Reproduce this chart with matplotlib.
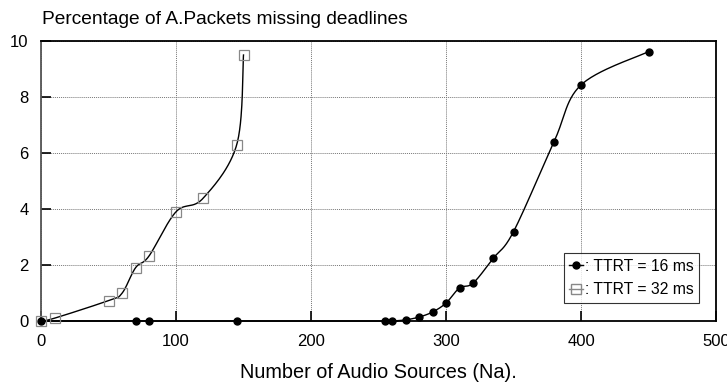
import numpy as np
import matplotlib.pyplot as plt

# data
na_16 = [0, 70, 80, 145, 255, 260, 270, 280, 290, 300, 310, 320, 335, 350, 380, 400, 450]
pct_16 = [0, 0, 0, 0, 0, 0, 0.04, 0.14, 0.32, 0.64, 1.18, 1.35, 2.24, 3.19, 6.4, 8.43, 9.62]

na_32 = [0, 10, 50, 60, 70, 80, 100, 120, 145, 150]
pct_32 = [0, 0.1, 0.73, 0.99, 1.9, 2.32, 3.9, 4.38, 6.3, 9.5]

x_ticks = [0, 100, 200, 300, 400, 500]
y_ticks = [0, 2, 4, 6, 8, 10]


def smooth(x, y, n=30):
    # spreadsheet-style smoothed line (cardinal bezier through the points)
    x = np.asarray(x, float)
    y = np.asarray(y, float)
    px = np.concatenate([[x[0]], x, [x[-1]]])
    py = np.concatenate([[y[0]], y, [y[-1]]])
    xs, ys = [], []
    t = np.linspace(0, 1, n)
    for i in range(1, len(px) - 2):
        p0 = np.array([px[i], py[i]])
        p3 = np.array([px[i + 1], py[i + 1]])
        c1 = p0 + (np.array([px[i + 1], py[i + 1]]) - np.array([px[i - 1], py[i - 1]])) / 6
        c2 = p3 - (np.array([px[i + 2], py[i + 2]]) - np.array([px[i], py[i]])) / 6
        b = ((1 - t) ** 3)[:, None] * p0 + (3 * (1 - t) ** 2 * t)[:, None] * c1 \
            + (3 * (1 - t) * t ** 2)[:, None] * c2 + (t ** 3)[:, None] * p3
        xs.extend(b[:, 0])
        ys.extend(b[:, 1])
    return xs, ys


plt.rcParams['font.family'] = ['Liberation Sans', 'DejaVu Sans']

fig = plt.figure(figsize=(7.27, 3.92), dpi=100)
ax = fig.add_axes([41 / 727, 1 - 321 / 392, 675 / 727, 280 / 392])

sx, sy = smooth(na_32, pct_32)
ax.plot(sx, sy, color='black', lw=1.0, zorder=3, clip_on=False)
ax.plot(na_32, pct_32, ls='none', marker='s', ms=6.5, mfc='none', mec='#888888',
        mew=0.9, zorder=4, clip_on=False)

sx, sy = smooth(na_16, pct_16)
ax.plot(sx, sy, color='black', lw=1.0, zorder=3, clip_on=False)
ax.plot(na_16, pct_16, ls='none', marker='o', ms=5, color='black', zorder=5, clip_on=False)

h1, = ax.plot([], [], color='black', lw=1.0, marker='o', ms=5)
h2, = ax.plot([], [], color='#888888', lw=1.0, marker='s', ms=6.5, mfc='none', mec='#888888')
leg = ax.legend([h1, h2], [': TTRT = 16 ms', ': TTRT = 32 ms'], loc='lower right',
                bbox_to_anchor=(0.975, 0.065), fontsize=11.3, frameon=True, fancybox=False,
                edgecolor='black', handlelength=0.9, handletextpad=0.1, borderpad=0.35,
                labelspacing=0.55, borderaxespad=0)
leg.get_frame().set_linewidth(0.8)

ax.set_xlim(0, 500)
ax.set_ylim(0, 10)
ax.set_xticks(x_ticks)
ax.set_yticks(y_ticks)
ax.tick_params(direction='in', length=7, width=1.2, labelsize=12, pad=9, colors='black')
ax.grid(True, color='#777777', ls=(0, (1, 1)), lw=0.7)

for s in ['top', 'right', 'bottom']:
    ax.spines[s].set_linewidth(1.3)
ax.spines['left'].set_color('#555555')
ax.spines['left'].set_linewidth(1.3)

fig.text(42 / 727, 1 - 20 / 392, 'Percentage of A.Packets missing deadlines', fontsize=13.8,
         va='center', ha='left')
fig.text(378 / 727, 1 - 372 / 392, 'Number of Audio Sources (Na).', fontsize=14.3,
         va='center', ha='center')

fig.savefig('out.png', dpi=100)
